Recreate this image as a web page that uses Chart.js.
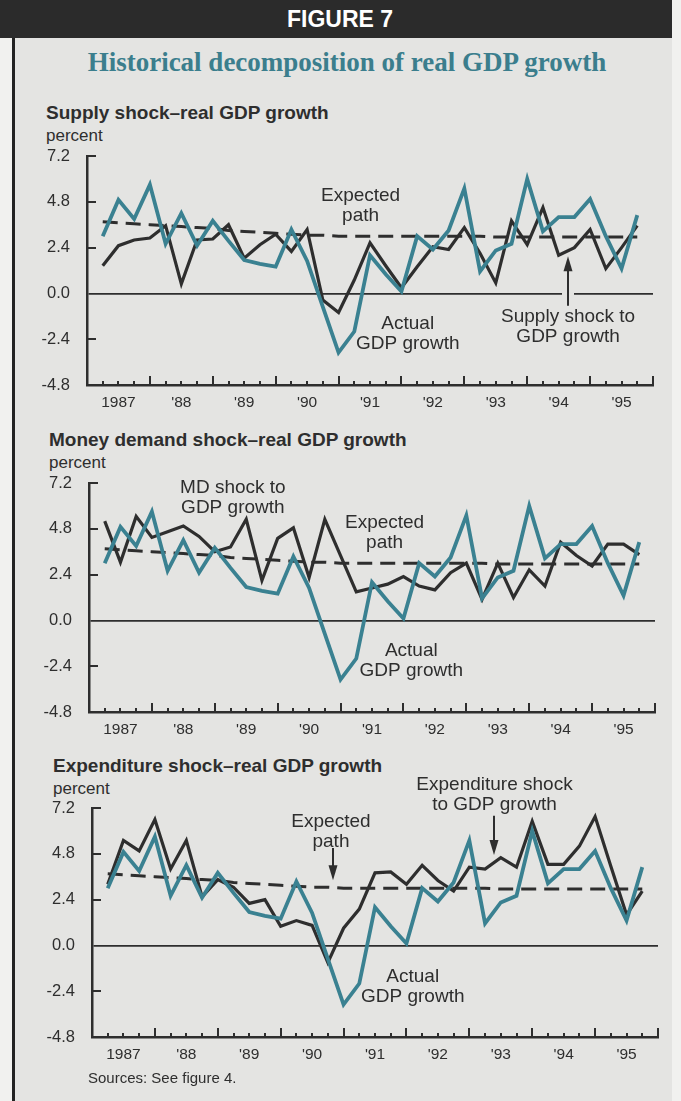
<!DOCTYPE html>
<html>
<head>
<meta charset="utf-8">
<script src="https://cdn.jsdelivr.net/npm/chart.js@4.4.1/dist/chart.umd.min.js"></script>
<style>
  body { margin: 0; background: #f1f1ef; font-family: "Liberation Sans", Arial, sans-serif; color: #2e2e2e; }
  #page { position: relative; width: 681px; height: 1101px; overflow: hidden; }
  #box { position: absolute; left: 12px; top: 0; width: 660px; height: 1101px; background: #e4e4e2; border-left: 3px solid #222; box-sizing: border-box; }
  #band { position: absolute; left: 0; top: 0; width: 672px; height: 38px; background: #2b2b2b; }
  #fig { position: absolute; left: 240px; top: 0; width: 200px; height: 38px; line-height: 38px; text-align: center; color: #fff; font-weight: bold; font-size: 23px; }
  #sub { position: absolute; left: 40px; top: 46px; width: 614px; line-height: 32px; text-align: center; font-family: "Liberation Serif", "Times New Roman", serif; font-weight: bold; font-size: 27px; color: #3b7e8d; }
  .ptitle { position: absolute; line-height: 20px; font-weight: bold; font-size: 19px; white-space: nowrap; }
  .unit { position: absolute; line-height: 20px; font-size: 17px; }
  #src { position: absolute; left: 88px; top: 1068px; line-height: 20px; font-size: 15px; }
  canvas { position: absolute; left: 0; }
</style>
</head>
<body>
<div id="page">
  <div id="box"></div>
  <div id="band"></div>
  <div id="fig">FIGURE 7</div>
  <div id="sub">Historical decomposition of real GDP growth</div>

  <div class="ptitle" style="left:46px; top:103px;">Supply shock–real GDP growth</div>
  <div class="unit" style="left:46px; top:126px;">percent</div>
  <canvas id="supplyChart" width="681" height="304"></canvas>

  <div class="ptitle" style="left:49px; top:430px;">Money demand shock–real GDP growth</div>
  <div class="unit" style="left:49px; top:453px;">percent</div>
  <canvas id="mdChart" width="681" height="304"></canvas>

  <div class="ptitle" style="left:53px; top:756px;">Expenditure shock–real GDP growth</div>
  <div class="unit" style="left:53px; top:779px;">percent</div>
  <canvas id="expChart" width="681" height="304"></canvas>

  <div id="src">Sources: See figure 4.</div>
</div>

<script>
// quarterly, 1987:Q1 - 1995:Q3
const years = ['1987', "'88", "'89", "'90", "'91", "'92", "'93", "'94", "'95"];

const actualGrowth = [3.0, 4.9, 3.9, 5.7, 2.6, 4.2, 2.5, 3.8, 2.75, 1.75,
  1.55, 1.4, 3.35, 1.7, -0.7, -3.1, -2.0, 2.0, 1.0, 0.1,
  3.0, 2.3, 3.3, 5.5, 1.15, 2.25, 2.6, 6.0, 3.25, 4.0,
  4.0, 4.95, 3.0, 1.3, 4.1];

const expectedPath = [3.75, 3.7, 3.65, 3.6, 3.55, 3.5, 3.45, 3.4, 3.3, 3.25,
  3.2, 3.15, 3.1, 3.05, 3.05, 3.0, 3.0, 3.0, 3.0, 3.0,
  3.0, 3.0, 3.0, 3.0, 3.0, 2.95, 2.95, 2.95, 2.95, 2.95,
  2.95, 2.95, 2.95, 2.95, 2.95];

const supplyShock = [1.45, 2.5, 2.8, 2.9, 3.55, 0.5, 2.8, 2.85, 3.6, 1.85,
  2.55, 3.1, 2.2, 3.35, -0.35, -1.0, 0.7, 2.65, 1.45, 0.3,
  1.4, 2.45, 2.3, 3.45, 2.1, 0.55, 3.8, 2.55, 4.5, 2.0,
  2.4, 3.35, 1.3, 2.4, 3.55];

const mdShock = [5.2, 3.05, 5.45, 4.35, 4.65, 4.95, 4.4, 3.6, 3.85, 5.3,
  2.1, 4.3, 4.85, 2.25, 5.3, 3.4, 1.5, 1.7, 1.9, 2.3,
  1.8, 1.6, 2.5, 3.0, 1.1, 3.0, 1.2, 2.65, 1.8, 4.1,
  3.4, 2.85, 4.0, 4.0, 3.45];

const expenditureShock = [3.2, 5.5, 4.95, 6.6, 4.0, 5.5, 2.55, 3.45, 3.05, 2.2,
  2.4, 1.0, 1.3, 1.05, -0.9, 0.9, 1.9, 3.8, 3.85, 3.2,
  4.2, 3.4, 2.85, 4.1, 4.0, 4.6, 4.1, 6.5, 4.25, 4.25,
  5.2, 6.75, 4.15, 1.6, 2.85];

const INK = '#2e2e2e';
const TEAL = '#3a8191';
const PAPER = '#e4e4e2';

// label anchors are in data units (quarters, percent)
const panels = [
  {
    canvas: 'supplyChart', shock: supplyShock,
    left: 87, right: 653, top: 156, bottom: 385,
    notes: [
      { x: 17.4, y: 5.1, lines: ['Expected', 'path'] },
      { x: 20.4, y: -1.6, lines: ['Actual', 'GDP growth'] },
      { x: 30.6, y: -1.25, lines: ['Supply shock to', 'GDP growth'] }
    ],
    arrows: [{ x: 30.6, from: -0.65, to: 1.95, gap: true }]
  },
  {
    canvas: 'mdChart', shock: mdShock,
    left: 89, right: 655, top: 483, bottom: 712,
    notes: [
      { x: 9.15, y: 6.95, lines: ['MD shock to', 'GDP growth'] },
      { x: 18.8, y: 5.1, lines: ['Expected', 'path'] },
      { x: 20.5, y: -1.6, lines: ['Actual', 'GDP growth'] }
    ],
    arrows: []
  },
  {
    canvas: 'expChart', shock: expenditureShock,
    left: 92, right: 658, top: 808, bottom: 1037,
    notes: [
      { x: 15.2, y: 6.5, lines: ['Expected', 'path'] },
      { x: 25.6, y: 8.4, lines: ['Expenditure shock', 'to GDP growth'] },
      { x: 20.4, y: -1.65, lines: ['Actual', 'GDP growth'] }
    ],
    arrows: [
      { x: 15.35, from: 5.1, to: 3.42 },
      { x: 25.56, from: 6.8, to: 4.74 }
    ]
  }
];

function series(values) {
  return values.map((v, i) => ({ x: i + 1, y: v }));
}

// inward tick marks, pointer arrows and the in-plot labels
const panelDecor = {
  id: 'panelDecor',
  afterDatasetsDraw(chart, args, opts) {
    const ctx = chart.ctx;
    const x = chart.scales.x;
    const y = chart.scales.y;
    ctx.save();
    ctx.strokeStyle = INK;
    ctx.lineWidth = 2;
    ctx.beginPath();
    for (let q = 1; q <= 36; q++) {
      const px = Math.round(x.getPixelForValue(q));
      const len = q % 4 === 0 ? 9 : 4;
      ctx.moveTo(px, y.bottom);
      ctx.lineTo(px, y.bottom - len);
    }
    [7.2, 4.8, 2.4, -2.4].forEach(v => {
      const py = Math.round(y.getPixelForValue(v));
      ctx.moveTo(x.left, py);
      ctx.lineTo(x.left + 9, py);
    });
    ctx.stroke();

    (opts.arrows || []).forEach(a => {
      const px = Math.round(x.getPixelForValue(a.x));
      const y0 = y.getPixelForValue(a.from);
      const y1 = y.getPixelForValue(a.to);
      const dir = y1 < y0 ? 1 : -1;
      if (a.gap) {
        ctx.fillStyle = PAPER;
        ctx.fillRect(px - 6, y.getPixelForValue(0) - 2, 12, 4);
      }
      ctx.beginPath();
      ctx.moveTo(px, y0);
      ctx.lineTo(px, y1 + dir * 10);
      ctx.stroke();
      ctx.fillStyle = INK;
      ctx.beginPath();
      ctx.moveTo(px, y1);
      ctx.lineTo(px - 4.5, y1 + dir * 15);
      ctx.lineTo(px + 4.5, y1 + dir * 15);
      ctx.closePath();
      ctx.fill();
    });

    ctx.fillStyle = INK;
    ctx.font = '19px "Liberation Sans", Arial, sans-serif';
    ctx.textAlign = 'center';
    ctx.textBaseline = 'middle';
    (opts.notes || []).forEach(n => {
      const px = x.getPixelForValue(n.x);
      const py = y.getPixelForValue(n.y);
      n.lines.forEach((t, k) => ctx.fillText(t, px, py + k * 20));
    });
    ctx.restore();
  }
};

function drawPanel(p) {
  const canvas = document.getElementById(p.canvas);
  canvas.style.top = (p.top - 40) + 'px';
  canvas.height = p.bottom - p.top + 40 + 35;

  new Chart(canvas, {
    type: 'line',
    data: {
      datasets: [
        {
          label: 'Actual GDP growth',
          data: series(actualGrowth),
          borderColor: TEAL,
          borderWidth: 3.8
        },
        {
          label: 'Shock to GDP growth',
          data: series(p.shock),
          borderColor: INK,
          borderWidth: 3.2
        },
        {
          label: 'Expected path',
          data: series(expectedPath),
          borderColor: INK,
          borderWidth: 3,
          borderDash: [15, 8]
        }
      ]
    },
    options: {
      responsive: false,
      animation: false,
      events: [],
      layout: { padding: { top: 40, right: 681 - p.right, bottom: 0, left: 0 } },
      elements: {
        point: { radius: 0 },
        line: { tension: 0, fill: false, borderJoinStyle: 'miter' }
      },
      plugins: {
        legend: { display: false },
        tooltip: { enabled: false },
        panelDecor: { notes: p.notes, arrows: p.arrows }
      },
      scales: {
        x: {
          type: 'linear',
          min: 0,
          max: 36,
          afterFit(scale) { scale.height = 35; },
          grid: { display: false, drawTicks: false },
          border: { color: INK, width: 2.5 },
          ticks: {
            stepSize: 1,
            maxTicksLimit: 40,
            autoSkip: false,
            maxRotation: 0,
            padding: 8,
            color: INK,
            font: { family: '"Liberation Sans", Arial, sans-serif', size: 15.5 },
            callback: v => (v % 4 === 2 ? years[(v - 2) / 4] : '')
          }
        },
        y: {
          min: -4.8,
          max: 7.2,
          afterFit(scale) { scale.width = p.left; },
          grid: {
            drawTicks: false,
            lineWidth: 1.8,
            color: c => (Math.abs(c.tick.value) < 1e-6 ? INK : 'rgba(0,0,0,0)')
          },
          border: { color: INK, width: 2.5 },
          ticks: {
            stepSize: 2.4,
            padding: 17,
            color: INK,
            font: { family: '"Liberation Sans", Arial, sans-serif', size: 16.5 },
            callback: v => v.toFixed(1)
          }
        }
      }
    },
    plugins: [panelDecor]
  });
}

panels.forEach(drawPanel);
</script>
</body>
</html>
